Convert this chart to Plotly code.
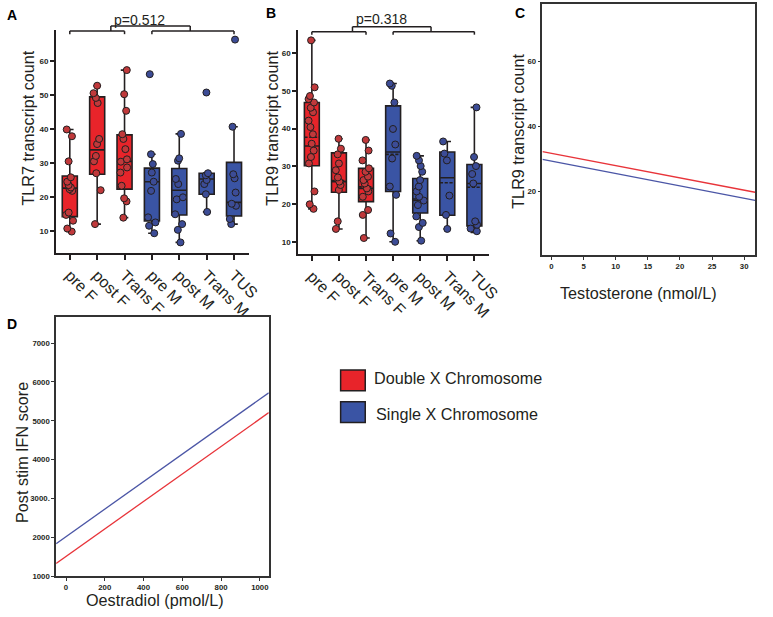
import plotly.graph_objects as go

W, H = 773, 617

# ---------------- data ----------------
categories = ["pre F", "post F", "Trans F", "pre M", "post M", "Trans M", "TUS"]
double_x_groups = ["pre F", "post F", "Trans F"]
single_x_groups = ["pre M", "post M", "Trans M", "TUS"]
legend_labels = ["Double X Chromosome", "Single X Chromosome"]

# Panel A: TLR7 transcript count (box statistics)
tlr7_q1 = [14.2, 26.7, 22.3, 12.9, 14.7, 20.8, 14.4]
tlr7_median = [22.6, 33.9, 30.5, 24.5, 22.0, 25.3, 18.4]
tlr7_q3 = [26.2, 49.5, 38.3, 28.5, 28.4, 27.0, 30.2]
tlr7_lower = [9.8, 12.0, 13.9, 9.3, 6.6, 15.6, 12.0]
tlr7_upper = [39.9, 52.8, 57.4, 32.6, 38.6, 27.0, 40.7]
# Panel A: individual points
tlr7_pre_f = [39.9, 37.9, 30.5, 25.8, 24.5, 23.5, 22.8, 22.3, 21.8, 15.4, 14.7, 13.0, 10.7, 9.8]
tlr7_post_f = [52.8, 50.6, 49.2, 47.7, 37.1, 35.6, 32.1, 30.5, 27.0, 22.0, 12.0]
tlr7_trans_f = [57.4, 50.3, 45.4, 38.5, 37.1, 34.1, 31.1, 30.4, 28.7, 27.2, 23.3, 19.6, 18.7, 13.9]
tlr7_pre_m = [56.2, 32.6, 29.7, 27.2, 24.5, 21.8, 14.0, 12.5, 11.5, 9.3]
tlr7_post_m = [38.6, 31.4, 30.7, 25.3, 23.8, 19.9, 19.3, 14.9, 12.0, 10.3, 6.6]
tlr7_trans_m = [50.8, 27.0, 26.4, 25.0, 23.8, 20.8, 15.6]
tlr7_tus = [66.4, 40.7, 26.7, 25.5, 21.3, 18.0, 17.4, 13.5, 12.0]

# Panel B: TLR9 transcript count (box statistics)
tlr9_q1 = [30.2, 23.2, 20.7, 23.4, 17.7, 17.1, 14.3]
tlr9_median = [35.4, 26.0, 24.2, 33.8, 21.0, 27.0, 25.5]
tlr9_mean = [37.7, 26.3, 24.6, 33.2, 21.4, 25.7, 24.5]
tlr9_q3 = [46.9, 33.6, 29.5, 46.0, 26.8, 33.8, 30.5]
tlr9_lower = [18.8, 13.5, 11.1, 10.1, 10.4, 13.5, 12.6]
tlr9_upper = [63.3, 37.3, 37.0, 51.9, 32.8, 36.6, 45.6]
# Panel B: individual points
tlr9_pre_f = [63.3, 50.9, 48.6, 47.8, 46.9, 45.5, 44.3, 42.1, 40.4, 38.5, 36.0, 34.2, 32.5, 30.8, 23.4, 20.0, 18.8]
tlr9_post_f = [37.3, 34.7, 33.2, 30.8, 29.0, 27.1, 26.0, 25.1, 23.8, 15.5, 13.5]
tlr9_trans_f = [37.0, 34.2, 31.6, 29.5, 28.6, 27.3, 26.4, 25.5, 24.2, 23.4, 22.0, 18.5, 17.2, 11.1]
tlr9_pre_m = [51.9, 51.3, 46.9, 39.9, 35.8, 32.1, 24.7, 22.5, 12.3, 10.1]
tlr9_post_m = [32.8, 31.6, 30.1, 28.6, 26.4, 24.7, 23.4, 22.0, 21.0, 19.8, 16.8, 15.1, 14.0, 10.4]
tlr9_trans_m = [36.6, 33.4, 31.6, 22.3, 17.2, 13.5]
tlr9_tus = [45.6, 32.5, 30.1, 28.0, 25.5, 15.5, 14.6, 13.6, 12.9]

p_values = ["p=0.512", "p=0.318"]

# Panel C: regression lines TLR9 vs testosterone
testosterone = [-1.4, 31.7]
tlr9_fit_double = [32.2, 19.7]
tlr9_fit_single = [29.8, 17.2]

# Panel D: regression lines IFN score vs oestradiol
oestradiol = [-51, 1046]
ifn_fit_double = [1330, 5210]
ifn_fit_single = [1840, 5720]
d_tickvals = [1000, 2000, 3000, 4000, 5000, 6000, 7000]
d_ticktext = ["1000", "2000", "3000.", "4000", "5000", "6000", "7000"]

# ---------------- style ----------------
RED_FILL = "#E8242A"
BLUE_FILL = "#3A54A4"
RED_PT = "#C0393B"
BLUE_PT = "#3C4C96"
EDGE = "#231F20"
TXT = "#231F20"
FONT = "Liberation Sans, Arial, sans-serif"
BOXW = 0.55
XR = [-0.5, 6.55]
TITLE = 16.2


def px(x):
    return x / W


def py(y):
    return 1 - y / H


fig = go.Figure()


def add_box_panel(xa, ya, q1, med, q3, lo, hi, pts, mean=None):
    for grp, fill, ptc in ((double_x_groups, RED_FILL, RED_PT), (single_x_groups, BLUE_FILL, BLUE_PT)):
        idx = [categories.index(c) for c in grp]
        kw = {}
        if mean is not None:
            kw["mean"] = [mean[i] for i in idx]
            kw["boxmean"] = True
        fig.add_trace(go.Box(
            x=grp, q1=[q1[i] for i in idx], median=[med[i] for i in idx],
            q3=[q3[i] for i in idx], lowerfence=[lo[i] for i in idx],
            upperfence=[hi[i] for i in idx], fillcolor=fill,
            line=dict(color=EDGE, width=1.6), width=BOXW, boxpoints=False,
            xaxis=xa, yaxis=ya, hoverinfo="skip", **kw))
        xs, ys = [], []
        for i in idx:
            xs += [categories[i]] * len(pts[i])
            ys += pts[i]
        fig.add_trace(go.Box(
            x=xs, y=ys, boxpoints="all", jitter=0.6, pointpos=0, width=BOXW,
            line=dict(width=0, color="rgba(0,0,0,0)"), fillcolor="rgba(0,0,0,0)",
            marker=dict(color=ptc, size=7, line=dict(color=EDGE, width=1)),
            xaxis=xa, yaxis=ya, hoveron="points"))


add_box_panel("x", "y", tlr7_q1, tlr7_median, tlr7_q3, tlr7_lower, tlr7_upper,
              [tlr7_pre_f, tlr7_post_f, tlr7_trans_f, tlr7_pre_m, tlr7_post_m, tlr7_trans_m, tlr7_tus])
add_box_panel("x2", "y2", tlr9_q1, tlr9_median, tlr9_q3, tlr9_lower, tlr9_upper,
              [tlr9_pre_f, tlr9_post_f, tlr9_trans_f, tlr9_pre_m, tlr9_post_m, tlr9_trans_m, tlr9_tus],
              mean=tlr9_mean)

fig.add_trace(go.Scatter(x=testosterone, y=tlr9_fit_double, mode="lines",
                         line=dict(color="#E8343A", width=1.3), xaxis="x3", yaxis="y3"))
fig.add_trace(go.Scatter(x=testosterone, y=tlr9_fit_single, mode="lines",
                         line=dict(color="#4B56A6", width=1.3), xaxis="x3", yaxis="y3"))
fig.add_trace(go.Scatter(x=oestradiol, y=ifn_fit_double, mode="lines",
                         line=dict(color="#E8343A", width=1.3), xaxis="x4", yaxis="y4"))
fig.add_trace(go.Scatter(x=oestradiol, y=ifn_fit_single, mode="lines",
                         line=dict(color="#4B56A6", width=1.3), xaxis="x4", yaxis="y4"))

box_x = dict(type="category", range=XR, showline=True, linecolor=EDGE, linewidth=2,
             ticks="outside", ticklen=5, tickwidth=2, tickcolor=EDGE, tickangle=45,
             tickfont=dict(size=16, color=TXT, family=FONT), showgrid=False, zeroline=False,
             categoryorder="array", categoryarray=categories)
box_y = dict(showline=True, linecolor=EDGE, linewidth=2, ticks="outside", ticklen=4,
             tickwidth=2, tickcolor=EDGE, tickvals=[10, 20, 30, 40, 50, 60],
             tickfont=dict(size=8, color=TXT, family=FONT, weight="bold"),
             showgrid=False, zeroline=False)
frame = dict(showline=True, mirror=True, linecolor="#333333", linewidth=1.5,
             ticks="outside", ticklen=3, tickwidth=1.2, tickcolor="#333333",
             tickfont=dict(size=7.8, color=TXT, family=FONT, weight="bold"),
             showgrid=False, zeroline=False)

fig.update_layout(
    width=W, height=H, margin=dict(l=0, r=0, t=0, b=0),
    paper_bgcolor="white", plot_bgcolor="white", showlegend=False,
    boxmode="overlay", font=dict(family=FONT, color=TXT),
    xaxis=dict(domain=[px(57), px(253)], anchor="y", **box_x),
    yaxis=dict(domain=[py(255), py(30)], anchor="x", range=[3.5, 69.3], **box_y),
    xaxis2=dict(domain=[px(303), px(497)], anchor="y2", **box_x),
    yaxis2=dict(domain=[py(256), py(30)], anchor="x2", range=[6.9, 66.1], **box_y),
    xaxis3=dict(domain=[px(551), px(767)], anchor="y3", range=[-1.4, 31.7],
                tickvals=[0, 5, 10, 15, 20, 25, 30], **frame),
    yaxis3=dict(domain=[py(257), py(4)], anchor="x3", range=[0.4, 77.7],
                tickvals=[20, 40, 60], **frame),
    xaxis4=dict(domain=[px(57), px(273)], anchor="y4", range=[-51, 1046],
                tickvals=[0, 200, 400, 600, 800, 1000], **frame),
    yaxis4=dict(domain=[py(581), py(320)], anchor="x4", range=[1000, 7660],
                tickvals=d_tickvals, ticktext=d_ticktext, **frame),
)

# ---------------- brackets (significance) ----------------
shapes = []


def bracket(xa, ya, yr, lower_y, end_y, top_y, left, right, top):
    def fx(i):
        return (i - XR[0]) / (XR[1] - XR[0])

    def fy(v):
        return (v - yr[0]) / (yr[1] - yr[0])

    ln = dict(color=EDGE, width=1.5)
    common = dict(type="line", xref=xa + " domain", yref=ya + " domain", line=ln)
    for a, b in (left, right):
        shapes.append(dict(x0=fx(a), x1=fx(b), y0=fy(lower_y), y1=fy(lower_y), **common))
        shapes.append(dict(x0=fx(a), x1=fx(a), y0=fy(lower_y), y1=fy(end_y), **common))
        shapes.append(dict(x0=fx(b), x1=fx(b), y0=fy(lower_y), y1=fy(end_y), **common))
    shapes.append(dict(x0=fx(top[0]), x1=fx(top[1]), y0=fy(top_y), y1=fy(top_y), **common))
    shapes.append(dict(x0=fx(top[0]), x1=fx(top[0]), y0=fy(top_y), y1=fy(lower_y), **common))
    shapes.append(dict(x0=fx(top[1]), x1=fx(top[1]), y0=fy(top_y), y1=fy(lower_y), **common))


bracket("x", "y", [3.5, 69.3], 68.9, 68.0, 70.4, (0, 2), (3, 6), (1.5, 4.4))
bracket("x2", "y2", [6.9, 66.1], 65.6, 64.8, 66.9, (0, 2), (3, 6), (1.5, 4.4))

# legend boxes
shapes.append(dict(type="rect", xref="paper", yref="paper", x0=px(346), x1=px(371),
                   y0=py(394), y1=py(373), fillcolor=RED_FILL, line=dict(color=EDGE, width=1.5)))
shapes.append(dict(type="rect", xref="paper", yref="paper", x0=px(346), x1=px(371),
                   y0=py(426), y1=py(405), fillcolor=BLUE_FILL, line=dict(color=EDGE, width=1.5)))
fig.update_layout(shapes=shapes)

# ---------------- text ----------------
ann = []


def text(x, y, s, size=15, angle=0, bold=False, xanchor="center"):
    ann.append(dict(x=px(x), y=py(y), xref="paper", yref="paper", text=s, showarrow=False,
                    textangle=angle, xanchor=xanchor, yanchor="middle",
                    font=dict(size=size, color=TXT if not bold else "#000000", family=FONT,
                              weight="bold" if bold else "normal")))


text(12, 15, "A", 14, bold=True)
text(275, 13, "B", 14, bold=True)
text(528, 13, "C", 14, bold=True)
text(12, 327, "D", 14, bold=True)
text(142, 20, p_values[0], 14)
text(388, 19, p_values[1], 14)
text(28, 129, "TLR7 transcript count", TITLE, angle=-90)
text(276, 129, "TLR9 transcript count", TITLE, angle=-90)
text(526, 132, "TLR9 transcript count", TITLE, angle=-90)
text(649, 295, "Testosterone (nmol/L)", TITLE)
text(23, 456, "Post stim IFN score", TITLE, angle=-90)
text(157, 605, "Oestradiol (pmol/L)", TITLE)
text(378, 381, legend_labels[0], 16.2, xanchor="left")
text(380, 417, legend_labels[1], 16.2, xanchor="left")
fig.update_layout(annotations=ann)

# remove the browser's default body margin so the figure sits at the page origin
fig.write_html("out.html", config={"displayModeBar": False},
               post_script="document.body.style.margin='0px';")
